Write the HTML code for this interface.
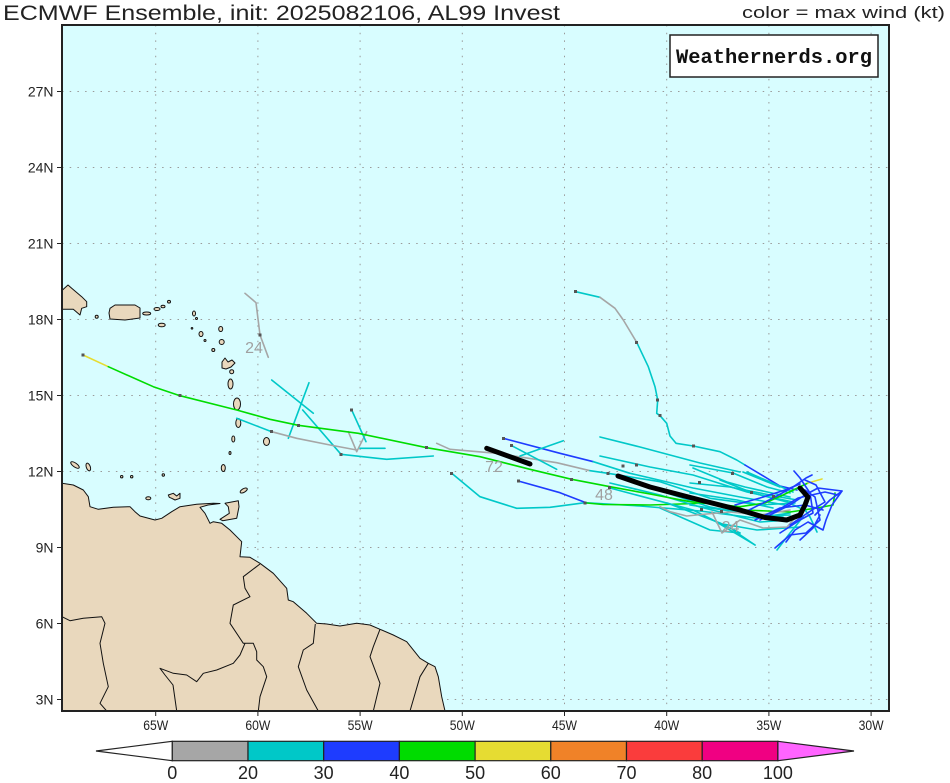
<!DOCTYPE html>
<html>
<head>
<meta charset="utf-8">
<style>
html,body{margin:0;padding:0;background:#fff;}
svg{display:block;}
text{font-family:"Liberation Sans",sans-serif;}
</style>
</head>
<body>
<svg width="950" height="783" viewBox="0 0 950 783" xmlns="http://www.w3.org/2000/svg">
<defs>
<clipPath id="map"><rect x="62" y="25" width="827" height="686"/></clipPath>
</defs>
<rect x="0" y="0" width="950" height="783" fill="#ffffff"/>

<!-- Title -->
<text x="3" y="20" font-size="21" fill="#222" textLength="557" lengthAdjust="spacingAndGlyphs">ECMWF Ensemble, init: 2025082106, AL99 Invest</text>
<text x="742" y="18" font-size="17" fill="#222" textLength="203" lengthAdjust="spacingAndGlyphs">color = max wind (kt)</text>

<g clip-path="url(#map)">
<rect x="62" y="25" width="827" height="686" fill="#d8fdff"/>
<!-- grid -->
<g stroke="#9a9a9a" stroke-width="1" stroke-dasharray="1.5 6.2" fill="none">
<line x1="155.7" y1="25" x2="155.7" y2="711"/>
<line x1="257.9" y1="25" x2="257.9" y2="711"/>
<line x1="360.1" y1="25" x2="360.1" y2="711"/>
<line x1="462.3" y1="25" x2="462.3" y2="711"/>
<line x1="564.5" y1="25" x2="564.5" y2="711"/>
<line x1="666.7" y1="25" x2="666.7" y2="711"/>
<line x1="768.9" y1="25" x2="768.9" y2="711"/>
<line x1="871.1" y1="25" x2="871.1" y2="711"/>
<line x1="62" y1="91.5" x2="889" y2="91.5"/>
<line x1="62" y1="167.5" x2="889" y2="167.5"/>
<line x1="62" y1="243.5" x2="889" y2="243.5"/>
<line x1="62" y1="319.5" x2="889" y2="319.5"/>
<line x1="62" y1="395.5" x2="889" y2="395.5"/>
<line x1="62" y1="471.5" x2="889" y2="471.5"/>
<line x1="62" y1="547.5" x2="889" y2="547.5"/>
<line x1="62" y1="623.5" x2="889" y2="623.5"/>
<line x1="62" y1="699.5" x2="889" y2="699.5"/>
</g>

<!-- Land -->
<g fill="#e9d8bd" stroke="#111" stroke-width="1" stroke-linejoin="round">
<polygon points="55,483.3 62,483.3 73.3,485 83.3,490 88.3,496.7 90,506.7 98.3,509.3 113.3,507.3 130,506.7 135,511.7 140,516 155,520 161.7,518.3 171.7,511.7 180,506.7 196.7,504.3 213.3,503.3 220,503.5 208,505 200,507.3 205,513.3 210,523.3 213.3,521.7 221.7,523.3 230,530 236.7,536.7 241.7,541.7 240,556.7 250,557.3 260,563.3 273.3,573.3 286.7,588.3 288.3,600 293.3,601.7 306.7,613.3 316.7,623.3 326.7,624 340,626 356.7,623.3 370,625 380,629.3 393.3,635 406.7,641.7 420,658.3 428.3,663.3 435,666.7 438.3,676.7 441.7,696.7 445,711 445,720 55,720"/>
<!-- Hispaniola -->
<polygon points="55,290 61.7,290.7 68,285 71.7,288.3 81.7,296.7 86.7,301.7 86.7,306.7 81.7,308.3 80,315 73.3,309.3 61.7,309.3 55,309"/>
<!-- Puerto Rico -->
<polygon points="110,308.3 115,305 135,305 140,308 140,318 125,320 110,319 109,313"/>
<!-- Trinidad -->
<polygon points="225,503.3 238.3,500.7 239,506.7 236.7,518.3 222.7,520.7 220,519.3 229.3,513.3 228.3,506.7"/>
<!-- Margarita -->
<polygon points="168.3,495 173.3,493.3 176.7,496 180,493.3 180,498.3 175,500 171.7,498.3 169.3,497.3"/>
<!-- Guadeloupe -->
<polygon points="222,362 225,358 228,362 232,360 235,363 231,367 226,369 222,368"/>
<ellipse cx="96.7" cy="316.7" rx="1.5" ry="1.5"/>
<ellipse cx="146.7" cy="313.5" rx="4" ry="1.5"/>
<ellipse cx="157" cy="309" rx="3" ry="1.5"/>
<ellipse cx="163" cy="306.5" rx="2" ry="1.3"/>
<ellipse cx="169" cy="301.7" rx="1.5" ry="1.3"/>
<ellipse cx="161.7" cy="325" rx="3.5" ry="1.8"/>
<ellipse cx="194" cy="313.5" rx="1.5" ry="2.5"/>
<ellipse cx="196.5" cy="318.5" rx="1" ry="1"/>
<ellipse cx="192" cy="328.3" rx="0.8" ry="0.8"/>
<ellipse cx="201" cy="334" rx="2" ry="2.5"/>
<ellipse cx="205" cy="340.5" rx="1" ry="1"/>
<ellipse cx="213.3" cy="350" rx="1.5" ry="1.5"/>
<ellipse cx="220.7" cy="329" rx="2" ry="2.5"/>
<ellipse cx="221.7" cy="342" rx="2.5" ry="2.5"/>
<ellipse cx="231.7" cy="371.7" rx="2" ry="2"/>
<ellipse cx="230.5" cy="384" rx="2.5" ry="5"/>
<ellipse cx="237" cy="404" rx="3.5" ry="6"/>
<ellipse cx="238.3" cy="423" rx="2.5" ry="4.5"/>
<ellipse cx="233.3" cy="439" rx="1.5" ry="3"/>
<ellipse cx="230" cy="453" rx="1" ry="1.5"/>
<ellipse cx="223.3" cy="468" rx="2" ry="3.5"/>
<ellipse cx="266.5" cy="441.5" rx="3" ry="4"/>
<ellipse cx="75" cy="465" rx="5" ry="2" transform="rotate(35 75 465)"/>
<ellipse cx="88.3" cy="467" rx="2" ry="4" transform="rotate(-20 88.3 467)"/>
<ellipse cx="121.7" cy="476.7" rx="1.2" ry="1.2"/>
<ellipse cx="131.7" cy="476.7" rx="1.2" ry="1.2"/>
<ellipse cx="163.3" cy="475" rx="1.2" ry="1.2"/>
<ellipse cx="148.3" cy="498.3" rx="2.5" ry="1.5"/>
<ellipse cx="243.7" cy="490.5" rx="4" ry="1.8" transform="rotate(-30 243.7 490.5)"/>
</g>
<!-- borders -->
<g fill="none" stroke="#111" stroke-width="1" stroke-linejoin="round">
<polyline points="62,616.7 70,620.7 83.3,618.3 101.7,616.7 105,623.3 100,643.3 103.3,663.3 108.3,686.7 100,703.3 106.7,711"/>
<polyline points="260,564 243.3,576.7 245,588.3 250,596.7 233.3,605 230,623.3 243.3,643.3 253.3,643.3 256.7,651.7 256.7,660 263.3,666.7 266.7,676.7 260,696.7 258.3,711"/>
<polyline points="245,643.3 240,655 233.3,663.3 216.7,670 203.3,673.3 196.7,681.7 186.7,675 173.3,673.3 160,668.3 165,675 173,685 176.7,711"/>
<polyline points="315.3,624 313.3,643.3 303.3,650 298.3,666.7 306.7,690 318.3,711"/>
<polyline points="380,629.3 373.3,646.7 370,656.7 380,683.3 373.3,711"/>
<polyline points="428.3,663.3 420,676.7 410,711"/>
</g>

<!-- Tracks -->
<g fill="none" stroke-width="1.6" stroke-linejoin="round" stroke-linecap="round">
<!-- north track -->
<polyline stroke="#00c8c8" points="575.7,291.7 600,297.3"/>
<polyline stroke="#a6a6a6" points="600,297.3 615,308.3 623.3,320 636.7,342.3"/>
<polyline stroke="#00c8c8" points="636.7,342.3 648.3,366.7 655,386.7 657.7,400 656.7,413.3 660,415.7 666.7,423.3 670,436 676,443.3 693.3,446 720,451.7 736.7,460 745,465"/>
<polyline stroke="#1e3cff" points="745,465 780,486 797,490"/>
<!-- top left gray -->
<polyline stroke="#a6a6a6" points="245,293.3 256,302.7 260,335 268.3,357.3"/>
<!-- west cluster -->
<polyline stroke="#00c8c8" points="271.7,380 313.3,413.3"/>
<polyline stroke="#00c8c8" points="309,382.7 288.3,438.3"/>
<polyline stroke="#00c8c8" points="302.7,410 341,454.3 386.7,459.3 433.3,456"/>
<polyline stroke="#00c8c8" points="236.7,418.3 271.7,431.7"/>
<polyline stroke="#a6a6a6" points="271.7,431.7 296.7,438.3 330,445 356.7,450"/>
<polyline stroke="#a6a6a6" points="348.3,431.7 356.7,451.7 366.7,431.7"/>
<polyline stroke="#00c8c8" points="360,448.3 385,448.3"/>
<polyline stroke="#00c8c8" points="351.7,410 366,441.7"/>
<!-- mid tracks -->
<polyline stroke="#a6a6a6" points="436.7,443.3 450,449.3 496.7,453.3 556.7,462.7 590,470.7"/>
<polyline stroke="#00c8c8" points="590,470.7 608,473.3 660,481.7 710,498.3 760,505 795,503"/>
<polyline stroke="#1e3cff" points="503.3,438.3 560,453.3 593.3,461.7"/>
<polyline stroke="#00c8c8" points="593.3,461.7 630,473.3 693,488 740,497 785,505"/>
<polyline stroke="#00c8c8" points="511.7,445.7 556.7,469.3"/>
<polyline stroke="#00c8c8" points="520,456 563.3,440.7"/>
<polyline stroke="#00c8c8" points="451.7,473.3 480,496.7 516.7,508.3 550,507.3 585,502.7 640,506 700,511 755,518 790,513"/>
<polyline stroke="#1e3cff" points="518.3,481 560,492.7 586.7,503"/>
<polyline stroke="#00dc00" points="586.7,503 603,504.5 650,505 710,503 745,510 790,512 817,508 833,505 835,493"/>
<!-- cluster cyan -->
<polyline stroke="#00c8c8" points="600,456 650,467 693,475 747,492 793,502"/>
<polyline stroke="#00c8c8" points="627,480 710,507 760,516 790,515"/>
<polyline stroke="#00c8c8" points="610,488 693,510 713,520 755,545"/>
<polyline stroke="#00c8c8" points="660,508 710,530 740,533"/>
<polyline stroke="#00c8c8" points="690,465 733,473 767,487 790,493"/>
<polyline stroke="#00c8c8" points="690,483 730,487 780,497 797,500"/>
<polyline stroke="#00c8c8" points="720,480 753,493 787,502 800,508"/>
<polyline stroke="#00c8c8" points="743,472 780,487"/>
<polyline stroke="#00c8c8" points="690,493 737,500 773,508"/>
<polyline stroke="#00c8c8" points="690,505 737,512 783,517"/>
<polyline stroke="#00c8c8" points="717,523 757,530 800,527"/>
<polyline stroke="#00c8c8" points="733,530 755,545"/>
<polyline stroke="#00c8c8" points="777,550 790,533 803,517"/>
<polyline stroke="#00c8c8" points="817,532 810,517 803,507"/>
<polyline stroke="#00c8c8" points="693,468 727,482 745,487 790,497"/>
<polyline stroke="#00c8c8" points="610,483 660,495 700,507 760,522 790,520"/>
<polyline stroke="#00c8c8" points="667,503 720,523 740,533"/>
<polyline stroke="#00c8c8" points="747,472 793,492"/>
<polyline stroke="#00c8c8" points="600,437 640,447 700,463 740,472"/>
<!-- gray in cluster -->
<polyline stroke="#a6a6a6" points="660,506.7 670,511.7 686.7,516 706.7,514 730,512 760,515 790,510"/>
<polyline stroke="#a6a6a6" points="712,512 722,533 740,520 763,528 787,527 800,512"/>
<!-- main green -->
<polyline stroke="#e6dc32" points="83,355 108.3,366.7"/>
<polyline stroke="#00dc00" points="108.3,366.7 153.3,386.7 180,395.7 236.7,410 270,419.3 298.3,425.3 358.3,433.3 426.7,447.7 480,456.7 530,469.3 571.7,479.3 610,486.7 650,494 690,501.7 740,506.7 765,503 783,495 808,483"/>
<polyline stroke="#e6dc32" points="808,483 822,479"/>
<!-- knot blue -->
<polyline stroke="#1e3cff" points="745,512 775,497 793,487 806,478 812,475"/>
<polyline stroke="#1e3cff" points="760,520 790,505 805,495 818,488 842,491 830,500 815,515"/>
<polyline stroke="#1e3cff" points="780,533 800,520 813,513 810,493 800,478 794,471"/>
<polyline stroke="#1e3cff" points="786,542 795,530 808,522 823,530 826,520 832,505 842,491"/>
<polyline stroke="#1e3cff" points="775,548 790,535 806,533 820,520 815,497 805,490"/>
<polyline stroke="#1e3cff" points="770,515 798,498 825,492 838,495"/>
<polyline stroke="#1e3cff" points="790,525 812,510 825,502 816,485 805,480"/>
<polyline stroke="#1e3cff" points="755,520 780,508 805,505 823,510"/>
<polyline stroke="#1e3cff" points="800,540 813,528 820,515"/>
<polyline stroke="#1e3cff" points="735,505 760,498 785,490 800,484"/>
<!-- black mean tracks -->
<polyline stroke="#000" stroke-width="5" points="618,476 650,487 700,500 740,510 765,517.5 786.7,520 800,515 805,505 808,497 800,488"/>
<polyline stroke="#000" stroke-width="5" points="486.7,448.3 530,464"/>
</g>
<!-- dots -->
<g fill="#555">
<rect x="81.5" y="353.5" width="3" height="3"/>
<rect x="178.5" y="394" width="3" height="3"/>
<rect x="297" y="424" width="3" height="3"/>
<rect x="425" y="446" width="3" height="3"/>
<rect x="570" y="478" width="3" height="3"/>
<rect x="574" y="290" width="3" height="3"/>
<rect x="635" y="341" width="3" height="3"/>
<rect x="656" y="398.5" width="3" height="3"/>
<rect x="658.5" y="414" width="3" height="3"/>
<rect x="692" y="444.5" width="3" height="3"/>
<rect x="258.5" y="333.5" width="3" height="3"/>
<rect x="270" y="430" width="3" height="3"/>
<rect x="339.5" y="453" width="3" height="3"/>
<rect x="350" y="408.5" width="3" height="3"/>
<rect x="502" y="437" width="3" height="3"/>
<rect x="510" y="444" width="3" height="3"/>
<rect x="450" y="472" width="3" height="3"/>
<rect x="517" y="479.5" width="3" height="3"/>
<rect x="583.5" y="501.5" width="3" height="3"/>
<rect x="606.5" y="472" width="3" height="3"/>
<rect x="621.5" y="464.5" width="3" height="3"/>
<rect x="635" y="463.5" width="3" height="3"/>
<rect x="608" y="486" width="3" height="3"/>
<rect x="698" y="481" width="3" height="3"/>
<rect x="731" y="472" width="3" height="3"/>
<rect x="750" y="491" width="3" height="3"/>
<rect x="720" y="510" width="3" height="3"/>
<rect x="700" y="508" width="3" height="3"/>
<rect x="772" y="495" width="3" height="3"/>
</g>
<!-- hour labels -->
<g fill="#a0a0a0" font-size="16">
<text x="254" y="353" text-anchor="middle">24</text>
<text x="494" y="472" text-anchor="middle">72</text>
<text x="604" y="500" text-anchor="middle">48</text>
<text x="730.5" y="532" text-anchor="middle">24</text>
</g>
<!-- logo box -->
<rect x="670" y="35" width="208" height="42" fill="#fff" stroke="#222" stroke-width="1.5"/>
<text x="774" y="63" style="font-family:'Liberation Mono','DejaVu Sans Mono',monospace;font-weight:bold;font-size:20px;" fill="#111" text-anchor="middle" textLength="196" lengthAdjust="spacingAndGlyphs">Weathernerds.org</text>
</g>

<!-- frame -->
<rect x="62" y="25" width="827" height="686" fill="none" stroke="#222" stroke-width="2"/>

<!-- lat ticks & labels -->
<g stroke="#222" stroke-width="1">
<line x1="57" y1="91.5" x2="62" y2="91.5"/>
<line x1="57" y1="167.5" x2="62" y2="167.5"/>
<line x1="57" y1="243.5" x2="62" y2="243.5"/>
<line x1="57" y1="319.5" x2="62" y2="319.5"/>
<line x1="57" y1="395.5" x2="62" y2="395.5"/>
<line x1="57" y1="471.5" x2="62" y2="471.5"/>
<line x1="57" y1="547.5" x2="62" y2="547.5"/>
<line x1="57" y1="623.5" x2="62" y2="623.5"/>
<line x1="57" y1="699.5" x2="62" y2="699.5"/>
<line x1="155.7" y1="711" x2="155.7" y2="716"/>
<line x1="257.9" y1="711" x2="257.9" y2="716"/>
<line x1="360.1" y1="711" x2="360.1" y2="716"/>
<line x1="462.3" y1="711" x2="462.3" y2="716"/>
<line x1="564.5" y1="711" x2="564.5" y2="716"/>
<line x1="666.7" y1="711" x2="666.7" y2="716"/>
<line x1="768.9" y1="711" x2="768.9" y2="716"/>
<line x1="871.1" y1="711" x2="871.1" y2="716"/>
</g>
<g font-size="14" fill="#222" text-anchor="end">
<text x="53.5" y="96.5">27N</text>
<text x="53.5" y="172.5">24N</text>
<text x="53.5" y="248.5">21N</text>
<text x="53.5" y="324.5">18N</text>
<text x="53.5" y="400.5">15N</text>
<text x="53.5" y="476.5">12N</text>
<text x="53.5" y="552.5">9N</text>
<text x="53.5" y="628.5">6N</text>
<text x="53.5" y="704.5">3N</text>
</g>
<g font-size="14" fill="#222" text-anchor="middle">
<text x="155.7" y="730" textLength="25" lengthAdjust="spacingAndGlyphs">65W</text>
<text x="257.9" y="730" textLength="25" lengthAdjust="spacingAndGlyphs">60W</text>
<text x="360.1" y="730" textLength="25" lengthAdjust="spacingAndGlyphs">55W</text>
<text x="462.3" y="730" textLength="25" lengthAdjust="spacingAndGlyphs">50W</text>
<text x="564.5" y="730" textLength="25" lengthAdjust="spacingAndGlyphs">45W</text>
<text x="666.7" y="730" textLength="25" lengthAdjust="spacingAndGlyphs">40W</text>
<text x="768.9" y="730" textLength="25" lengthAdjust="spacingAndGlyphs">35W</text>
<text x="871.1" y="730" textLength="25" lengthAdjust="spacingAndGlyphs">30W</text>
</g>

<!-- colorbar -->
<g stroke="#222" stroke-width="1.2">
<polygon points="96,751 172.3,741.3 172.3,760.7" fill="#ffffff"/>
<rect x="172.3" y="741.3" width="75.7" height="19.4" fill="#a6a6a6"/>
<rect x="248" y="741.3" width="75.7" height="19.4" fill="#00c8c8"/>
<rect x="323.7" y="741.3" width="75.7" height="19.4" fill="#1e3cff"/>
<rect x="399.4" y="741.3" width="75.7" height="19.4" fill="#00dc00"/>
<rect x="475.1" y="741.3" width="75.7" height="19.4" fill="#e6dc32"/>
<rect x="550.8" y="741.3" width="75.7" height="19.4" fill="#f08228"/>
<rect x="626.5" y="741.3" width="75.7" height="19.4" fill="#fa3c3c"/>
<rect x="702.2" y="741.3" width="75.7" height="19.4" fill="#f00082"/>
<polygon points="777.9,741.3 854,751 777.9,760.7" fill="#ff64ff"/>
</g>
<g font-size="18" fill="#222" text-anchor="middle">
<text x="172.3" y="779">0</text>
<text x="248" y="779">20</text>
<text x="323.7" y="779">30</text>
<text x="399.4" y="779">40</text>
<text x="475.1" y="779">50</text>
<text x="550.8" y="779">60</text>
<text x="626.5" y="779">70</text>
<text x="702.2" y="779">80</text>
<text x="777.9" y="779">100</text>
</g>
</svg>
</body>
</html>
